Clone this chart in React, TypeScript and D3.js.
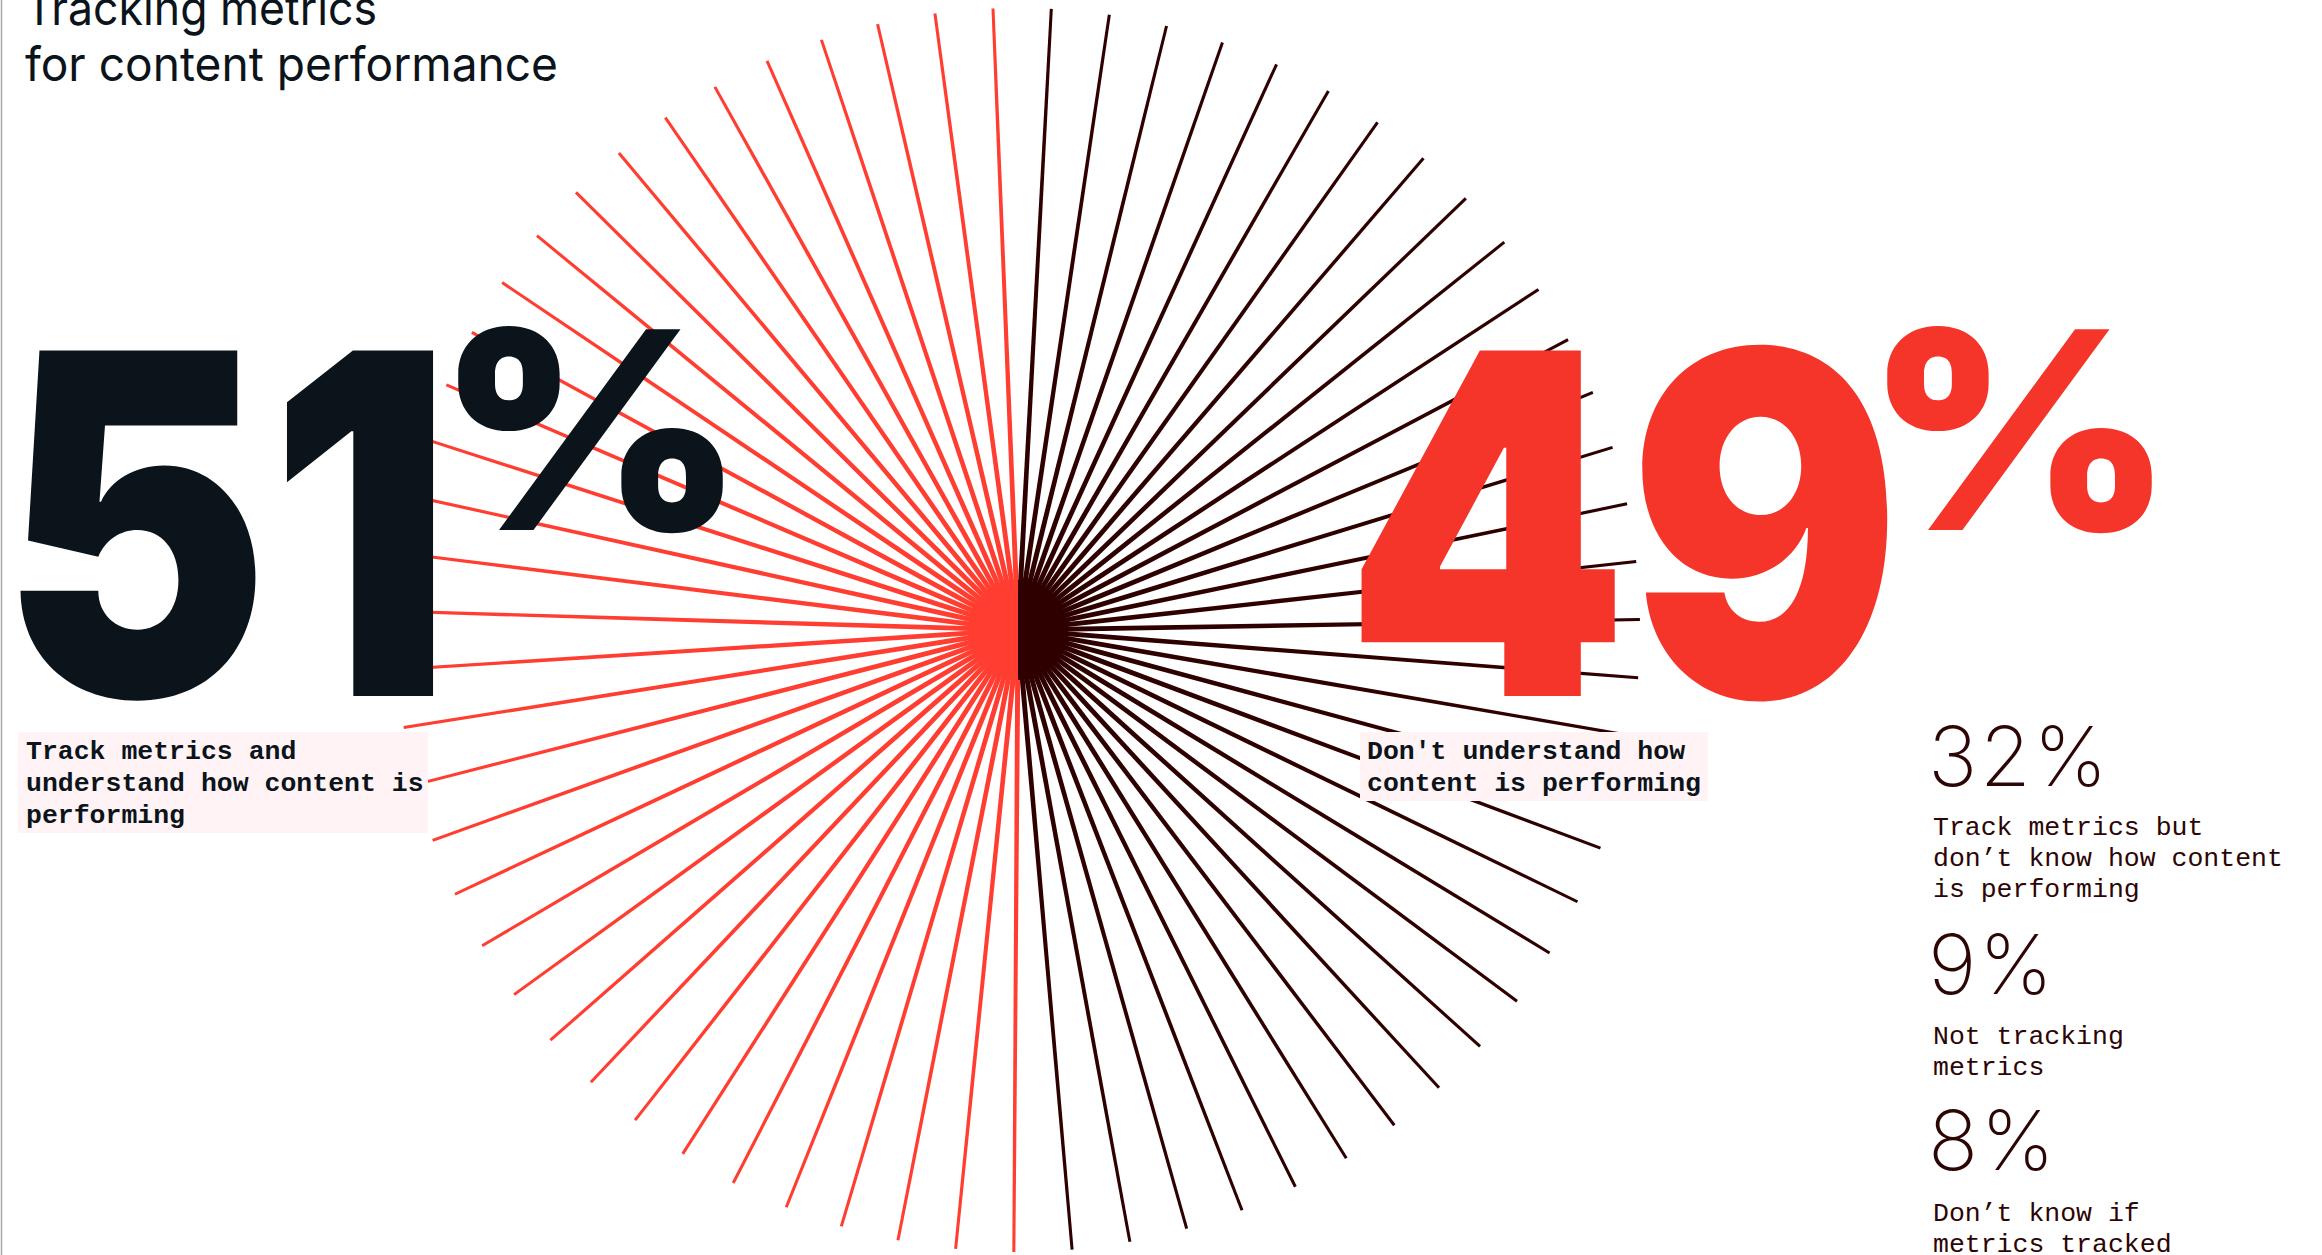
import React, { useEffect } from "react";
import * as d3 from "d3";

const W = 2322;
const H = 1255;

// ---------- data ----------
const titleLines = ["Tracking metrics", "for content performance"];

// order: clockwise from 12 o'clock (right half first)
const segmentKeys = ["dont", "track"];
const segmentValues = [49, 51];
const segmentColors = ["#2e0000", "#ff3d30"];
const segmentNumberColors = ["#f5352a", "#0b141a"];
const segmentLabels = [
  ["Don't understand how", "content is performing"],
  ["Track metrics and", "understand how content is", "performing"],
];

const RAY_COUNT = 67;
const RAY_OFFSET_DEG = 3.07;

const breakdownValues = [32, 9, 8];
const breakdownLabels = [
  ["Track metrics but", "don’t know how content", "is performing"],
  ["Not tracking", "metrics"],
  ["Don’t know if", "metrics tracked"],
];

// ---------- layout ----------
const cx = 1018;
const cy = 630;
const rayLen = 622;

export default function App() {
  useEffect(() => {
    document.body.style.margin = "0";
  }, []);

  // rays
  const counts = segmentValues.map((v) => Math.round((RAY_COUNT * v) / 100));
  const rays: { i: number; seg: number }[] = [];
  let k = 0;
  counts.forEach((c, s) => {
    for (let j = 0; j < c; j++) rays.push({ i: k++, seg: s });
  });
  const angle = d3
    .scaleLinear()
    .domain([0, RAY_COUNT])
    .range([(RAY_OFFSET_DEG * Math.PI) / 180, (RAY_OFFSET_DEG * Math.PI) / 180 + 2 * Math.PI]);
  const radius = d3.scaleLinear().domain([0, 1]).range([0, rayLen]);
  const width = d3.scaleLinear().domain([0, 1]).range([5.2, 3]);

  const rayPath = (a: number) => {
    const dx = Math.sin(a), dy = -Math.cos(a);
    const px = Math.cos(a), py = Math.sin(a);
    const p = d3.path();
    const r1 = radius(1);
    const w0 = width(0) / 2, w1 = width(1) / 2;
    p.moveTo(cx + px * w0, cy + py * w0);
    p.lineTo(cx + dx * r1 + px * w1, cy + dy * r1 + py * w1);
    p.lineTo(cx + dx * r1 - px * w1, cy + dy * r1 - py * w1);
    p.lineTo(cx - px * w0, cy - py * w0);
    p.closePath();
    return p.toString();
  };

  const halfArc = d3.arc<any>().innerRadius(0).outerRadius(50);

  const monoBold = "'Liberation Mono', 'DejaVu Sans Mono', monospace";
  const mono = "'Liberation Mono', 'DejaVu Sans Mono', monospace";
  const sans = "Inter, 'Noto Sans', sans-serif";

  const breakdownTops = [786, 994, 1170];
  const breakdownLabelY = [835, 1044, 1221];

  return (
    <svg
      width={W}
      height={H}
      viewBox={`0 0 ${W} ${H}`}
      style={{ position: "absolute", left: 0, top: 0, display: "block", background: "#fff" }}
    >
      <rect x={0} y={0} width={W} height={H} fill="#fff" />
      <line x1={1.5} x2={1.5} y1={0} y2={H} stroke="#a8a8a8" strokeWidth={1.5} />

      {/* title */}
      <g fontFamily={sans} fontSize={48} fill="#0b141a" fontWeight={400}>
        {titleLines.map((t, i) => (
          <text
            key={i}
            x={25}
            y={25 + i * 56}
            textLength={i === 0 ? 352 : 533}
            lengthAdjust="spacingAndGlyphs"
          >
            {t}
          </text>
        ))}
      </g>

      {/* rays */}
      <g>
        {rays.map((r) => (
          <path key={r.i} d={rayPath(angle(r.i))} fill={segmentColors[r.seg]} />
        ))}
        <path
          d={halfArc({ startAngle: 0, endAngle: Math.PI }) as string}
          transform={`translate(${cx},${cy})`}
          fill={segmentColors[0]}
        />
        <path
          d={halfArc({ startAngle: Math.PI, endAngle: 2 * Math.PI }) as string}
          transform={`translate(${cx},${cy})`}
          fill={segmentColors[1]}
        />
      </g>

      {/* big numbers */}
      <g fontFamily={sans} fontWeight={900}>
        <text x={0} y={696} fontSize={475} fill={segmentNumberColors[1]} textLength={452} lengthAdjust="spacingAndGlyphs">
          {String(segmentValues[1])}
        </text>
        <text x={437} y={530} fontSize={276} fill={segmentNumberColors[1]} textLength={307} lengthAdjust="spacingAndGlyphs">
          %
        </text>
        <text x={1345} y={696} fontSize={475} fill={segmentNumberColors[0]} textLength={556} lengthAdjust="spacingAndGlyphs">
          {String(segmentValues[0])}
        </text>
        <text x={1866} y={530} fontSize={276} fill={segmentNumberColors[0]} textLength={307} lengthAdjust="spacingAndGlyphs">
          %
        </text>
      </g>

      {/* segment labels */}
      <g>
        <rect x={18} y={732} width={410} height={101} fill="#fff3f6" />
        <text fontFamily={monoBold} fontWeight={700} fontSize={26.5} fill="#0b141a">
          {segmentLabels[1].map((l, i) => (
            <tspan key={i} x={26} y={759 + i * 32}>
              {l}
            </tspan>
          ))}
        </text>
        <rect x={1360} y={732} width={348} height={69} fill="#fff3f6" />
        <text fontFamily={monoBold} fontWeight={700} fontSize={26.5} fill="#0b141a">
          {segmentLabels[0].map((l, i) => (
            <tspan key={i} x={1367} y={759 + i * 32}>
              {l}
            </tspan>
          ))}
        </text>
      </g>

      {/* breakdown */}
      <g fill="#2d0505">
        {breakdownValues.map((v, i) => (
          <g key={i}>
            <text
              x={1928}
              y={breakdownTops[i]}
              fontFamily={sans}
              fontWeight={200}
              fontSize={83}
              letterSpacing={2.5}
            >
              {v}%
            </text>
            <text fontFamily={mono} fontSize={26.5}>
              {breakdownLabels[i].map((l, j) => (
                <tspan key={j} x={1933} y={breakdownLabelY[i] + j * 31}>
                  {l}
                </tspan>
              ))}
            </text>
          </g>
        ))}
      </g>
    </svg>
  );
}
